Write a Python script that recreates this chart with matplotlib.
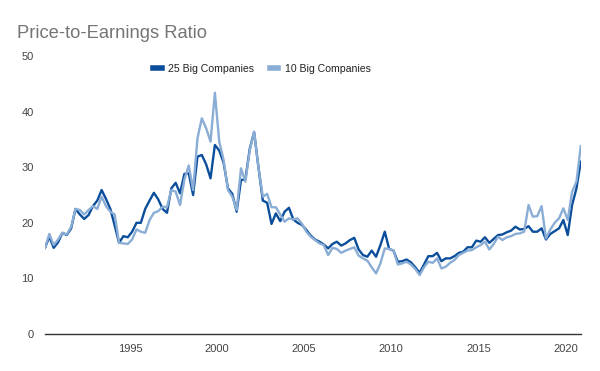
import matplotlib
matplotlib.use("Agg")
import matplotlib.pyplot as plt
from matplotlib.lines import Line2D
import numpy as np
import pandas as pd

title = "Price-to-Earnings Ratio"
series_names = ["25 Big Companies", "10 Big Companies"]
quarters = pd.period_range("1990Q1", "2020Q4", freq="Q")

big25 = [
    15.5, 17.5, 15.5, 16.5, 18.2, 17.8, 19.0, 22.5, 21.5, 20.7,
    21.4, 23.0, 24.0, 25.9, 24.3, 22.5, 19.5, 16.4, 17.6, 17.4,
    18.4, 20.0, 20.0, 22.5, 24.0, 25.4, 24.2, 22.5, 21.8, 26.2,
    27.2, 25.3, 28.8, 28.9, 25.0, 31.9, 32.2, 30.5, 28.0, 34.0,
    33.0, 30.8, 26.2, 25.2, 22.0, 27.7, 27.8, 33.3, 36.3, 30.0,
    24.0, 23.6, 19.8, 21.7, 20.3, 22.0, 22.7, 20.6, 20.0, 19.6,
    18.7, 17.7, 17.0, 16.6, 16.1, 15.4, 16.2, 16.6, 15.9, 16.3,
    16.9, 17.3, 15.2, 14.2, 13.9, 15.0, 13.9, 16.0, 18.4, 15.3,
    15.0, 13.0, 13.1, 13.4, 12.9, 12.0, 11.0, 12.5, 14.0, 14.0,
    14.6, 13.1, 13.6, 13.6, 14.0, 14.6, 14.8, 15.6, 15.6, 16.8,
    16.6, 17.4, 16.4, 17.1, 17.8, 17.9, 18.3, 18.6, 19.3, 18.8,
    18.9, 19.4, 18.4, 18.4, 19.0, 17.0, 18.0, 18.5, 19.0, 20.5,
    17.8, 23.2, 26.2, 31.0,
]

big10 = [
    15.5, 18.0, 16.0, 17.0, 18.2, 17.9, 19.3, 22.5, 22.3, 21.5,
    22.3, 23.0, 22.5, 24.7, 23.0, 22.0, 21.5, 16.4, 16.3, 16.2,
    17.0, 18.8, 18.4, 18.2, 20.5, 21.8, 22.1, 22.9, 22.8, 25.9,
    25.6, 23.2, 27.8, 30.3, 25.9, 35.2, 38.8, 37.0, 34.6, 43.4,
    34.6, 31.3, 25.9, 24.7, 22.3, 29.8, 27.4, 33.0, 36.4, 30.0,
    24.7, 25.2, 22.8, 22.8, 21.5, 20.2, 20.8, 20.6, 20.8, 19.8,
    18.4, 17.5, 16.9, 16.3, 16.0, 14.2, 15.5, 15.3, 14.6, 15.0,
    15.3, 15.6, 14.1, 13.6, 13.2, 12.0, 10.9, 12.7, 15.4, 15.3,
    15.0, 12.5, 12.7, 13.0, 12.5, 11.7, 10.6, 12.0, 13.0, 12.8,
    13.6, 11.8, 12.1, 12.8, 13.3, 14.2, 14.6, 15.0, 15.1, 15.6,
    16.0, 16.6, 15.2, 16.2, 17.5, 16.9, 17.4, 17.6, 18.0, 18.1,
    18.4, 23.2, 21.1, 21.2, 23.0, 17.2, 18.8, 20.0, 20.8, 22.6,
    20.5, 25.6, 27.4, 33.8,
]

year_ticks = [1995, 2000, 2005, 2010, 2015, 2020]
y_ticks = [0, 10, 20, 30, 40, 50]

# quarter midpoints as fractional years
x = np.array([q.year + (q.quarter - 1) * 0.25 + 0.125 for q in quarters])

plt.rcParams["font.family"] = ["Liberation Sans", "DejaVu Sans"]

dark = "#0b4e9b"
light = "#8aadd5"

fig = plt.figure(figsize=(6.0, 3.71), dpi=100)
ax = fig.add_axes([0.075, 0.0997, 0.893, 0.7493])

ax.plot(x, big25, color=dark, lw=1.7, zorder=2)
ax.plot(x, big10, color=light, lw=1.7, zorder=3)

ax.set_xlim(x[0], x[-1])
ax.set_ylim(0, 50)
ax.set_yticks(y_ticks)
ax.set_xticks(year_ticks)
ax.tick_params(axis="both", length=0, labelsize=8, colors="#444444")
ax.tick_params(axis="y", pad=8)
ax.tick_params(axis="x", pad=7)
for s in ["top", "right", "left"]:
    ax.spines[s].set_visible(False)
ax.spines["bottom"].set_color("#333333")
ax.spines["bottom"].set_linewidth(1.0)

fig.text(17 / 600, 1 - 33 / 371, title, fontsize=13.2, color="#757575",
         ha="left", va="center")

handles = [Line2D([0], [0], color=dark, lw=4),
           Line2D([0], [0], color=light, lw=4)]
fig.legend(handles, series_names, loc="center", bbox_to_anchor=(262 / 600, 1 - 69 / 371),
           ncol=2, frameon=False, fontsize=7.6, handlelength=0.8, handletextpad=0.6,
           columnspacing=1.5, labelcolor="#222222")

fig.savefig("out.png", dpi=100)
